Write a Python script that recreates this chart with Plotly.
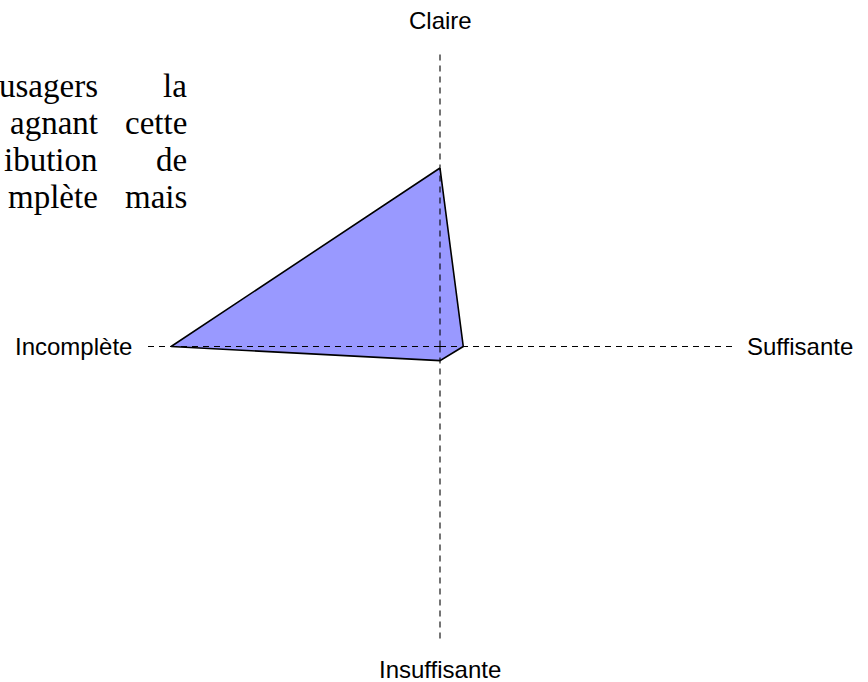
"""Radar chart: perception of the information given to users."""

import plotly.graph_objects as go

# axes of the radar, clockwise from the top
categories = ["Claire", "Suffisante", "Insuffisante", "Incomplète"]
# share of answers per axis (0-100 scale)
scores = [60.6, 7.9, 4.8, 91.3]
axis_max = 100

# fragment of the surrounding document text (justified paragraph, clipped)
text_left = ["usagers", "agnant", "ibution", "mplète"]
text_right = ["la", "cette", "de", "mais"]

W, H = 868, 682


def paper(px, py):
    """Window pixel position -> paper coordinates."""
    return px / W, 1 - py / H


cx, cy, radius = 440, 346.5, 294.5
sans = dict(family="Liberation Sans, Arial, sans-serif", size=24, color="black")
serif = dict(family="Liberation Serif, serif", size=33, color="black")

fig = go.Figure()

# filled profile
fig.add_trace(
    go.Scatterpolar(
        r=scores + [scores[0]],
        theta=categories + [categories[0]],
        mode="lines",
        fill="toself",
        fillcolor="#9999ff",
        line=dict(color="black", width=1.6),
        hoverinfo="skip",
    )
)

# dashed spokes drawn over the fill
for cat in categories:
    fig.add_trace(
        go.Scatterpolar(
            r=[0, axis_max],
            theta=[cat, cat],
            mode="lines",
            line=dict(color="black", width=1.1, dash="6px,5px"),
            hoverinfo="skip",
        )
    )

fig.update_layout(
    width=W,
    height=H,
    margin=dict(l=0, r=0, t=0, b=0),
    paper_bgcolor="white",
    showlegend=False,
    polar=dict(
        domain=dict(
            x=[(cx - radius) / W, (cx + radius) / W],
            y=[(H - cy - radius) / H, (H - cy + radius) / H],
        ),
        bgcolor="white",
        radialaxis=dict(range=[0, axis_max], visible=False, showgrid=False),
        angularaxis=dict(
            rotation=90,
            direction="clockwise",
            categoryorder="array",
            categoryarray=categories,
            showgrid=False,
            showline=False,
            showticklabels=False,
            ticks="",
        ),
    ),
)

# axis labels, placed further out than the tick labels would be
label_pos = {
    "Claire": (440, 21, "center"),
    "Suffisante": (745, 346, "left"),
    "Insuffisante": (440, 669, "center"),
    "Incomplète": (134, 346, "right"),
}
for cat in categories:
    px, py, anchor = label_pos[cat]
    x, y = paper(px, py)
    fig.add_annotation(
        text=cat, x=x, y=y, xref="paper", yref="paper",
        xanchor=anchor, yanchor="middle", showarrow=False, font=sans,
    )

# paragraph fragment in the top left corner
line_y = [86, 123, 160, 197]
for left, right, py in zip(text_left, text_right, line_y):
    for word, px in ((left, 100), (right, 189)):
        x, y = paper(px, py)
        fig.add_annotation(
            text=word, x=x, y=y, xref="paper", yref="paper",
            xanchor="right", yanchor="middle", showarrow=False, font=serif,
        )

# the default page body margin would shift the figure by 8px
fig.write_html(
    "out.html",
    config={"displayModeBar": False},
    post_script="document.body.style.margin='0';document.body.style.overflow='hidden';",
)
